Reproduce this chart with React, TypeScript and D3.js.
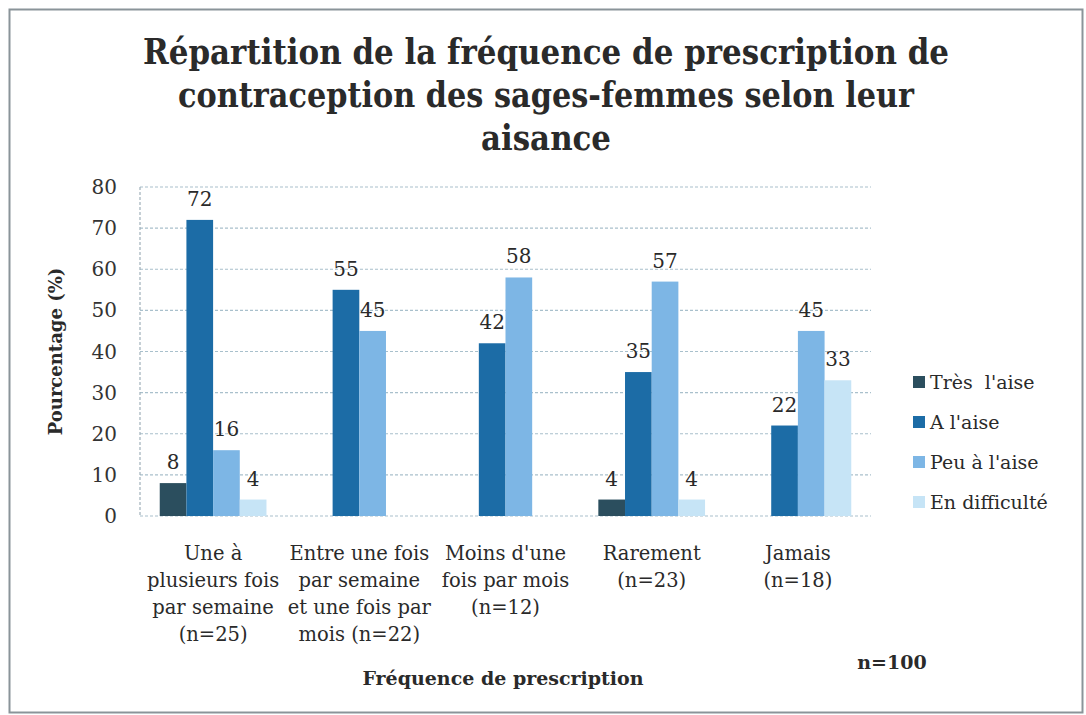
import React from "react";
import * as d3 from "d3";

const categories = [
  ["Une à", "plusieurs fois", "par semaine", "(n=25)"],
  ["Entre une fois", "par semaine", "et une fois par", "mois (n=22)"],
  ["Moins d'une", "fois par mois", "(n=12)"],
  ["Rarement", "(n=23)"],
  ["Jamais", "(n=18)"],
];
const seriesNames = ["Très  l'aise", "A l'aise", "Peu à l'aise", "En difficulté"];
const seriesColors = ["#2b4e5e", "#1c6ca6", "#7db6e5", "#c6e4f6"];
const tresAise: (number | null)[] = [8, null, null, 4, null];
const aAise: (number | null)[] = [72, 55, 42, 35, 22];
const peuAise: (number | null)[] = [16, 45, 58, 57, 45];
const enDifficulte: (number | null)[] = [4, null, null, 4, 33];
const yTicks = [0, 10, 20, 30, 40, 50, 60, 70, 80];
const titleLines = [
  "Répartition de la fréquence de prescription de",
  "contraception des sages-femmes selon leur",
  "aisance",
];
const titleWidths = [806, 736, 130];

const W = 1086;
const H = 715;
const serif = '"DejaVu Serif", "Liberation Serif", serif';

export default function App() {
  const series = [tresAise, aAise, peuAise, enDifficulte];
  const left = 140;
  const right = 871;
  const top = 187;
  const bottom = 516;
  const y = d3.scaleLinear().domain([0, 80]).range([bottom, top]);
  const x0 = d3
    .scaleBand<number>()
    .domain(categories.map((_, i) => i))
    .range([left, right])
    .paddingInner(0.27)
    .paddingOuter(0.135);
  const x1 = d3
    .scaleBand<number>()
    .domain(seriesNames.map((_, i) => i))
    .range([0, x0.bandwidth()]);
  const ty = 1.35;

  return (
    <svg
      width={W}
      height={H}
      style={{ position: "absolute", left: 0, top: 0, background: "#fff", fontFamily: serif }}
    >
      <rect x={0} y={0} width={W} height={H} fill="#fff" />
      <rect x={9.5} y={9.5} width={1073} height={703} fill="none" stroke="#8a9499" strokeWidth={2} />
      {titleLines.map((t, i) => (
        <text
          key={i}
          transform={`translate(546,${64 + i * 43}) scale(1,${ty})`}
          textAnchor="middle"
          fontSize={26}
          fontWeight="bold"
          fill="#2a2a2a"
          textLength={titleWidths[i]}
          lengthAdjust="spacingAndGlyphs"
        >
          {t}
        </text>
      ))}
      {yTicks.map((t) => (
        <line
          key={t}
          x1={left}
          x2={right}
          y1={y(t)}
          y2={y(t)}
          stroke="#a9c0cc"
          strokeWidth={1.2}
          strokeDasharray="3,2"
        />
      ))}
      <line x1={left} x2={left} y1={top} y2={bottom} stroke="#9fb0ba" strokeWidth={1.2} strokeDasharray="3,2" />
      {yTicks.map((t) => (
        <text key={t} x={117} y={y(t) + 7} textAnchor="end" fontSize={20} fill="#333">
          {t}
        </text>
      ))}
      <text
        transform={`translate(62,${(top + bottom) / 2}) rotate(-90)`}
        textAnchor="middle"
        fontSize={18}
        fontWeight="bold"
        fill="#2a2a2a"
      >
        Pourcentage (%)
      </text>
      {categories.map((_, ci) =>
        series.map((s, si) => {
          const v = s[ci];
          if (v === null) return null;
          const bx = (x0(ci) as number) + (x1(si) as number);
          return (
            <g key={`${ci}-${si}`}>
              <rect x={bx} y={y(v)} width={x1.bandwidth()} height={bottom - y(v)} fill={seriesColors[si]} />
              <text
                x={bx + x1.bandwidth() / 2}
                y={y(v) - 14}
                textAnchor="middle"
                fontSize={20}
                fill="#2a2a2a"
              >
                {v}
              </text>
            </g>
          );
        })
      )}
      {categories.map((lines, ci) => (
        <text
          key={ci}
          x={(x0(ci) as number) + x0.bandwidth() / 2}
          textAnchor="middle"
          fontSize={19.5}
          fill="#2a2a2a"
        >
          {lines.map((l, li) => (
            <tspan key={li} x={(x0(ci) as number) + x0.bandwidth() / 2} y={560 + li * 27}>
              {l}
            </tspan>
          ))}
        </text>
      ))}
      <text x={503} y={685} textAnchor="middle" fontSize={19} fontWeight="bold" fill="#2a2a2a">
        Fréquence de prescription
      </text>
      <text x={892} y={669} textAnchor="middle" fontSize={19} fontWeight="bold" fill="#2a2a2a">
        n=100
      </text>
      {seriesNames.map((n, i) => (
        <g key={i}>
          <rect x={913} y={376 + i * 40} width={12} height={12} fill={seriesColors[i]} />
          <text x={930} y={389 + i * 40} fontSize={19} fill="#2a2a2a" style={{ whiteSpace: "pre" }}>
            {n}
          </text>
        </g>
      ))}
    </svg>
  );
}
